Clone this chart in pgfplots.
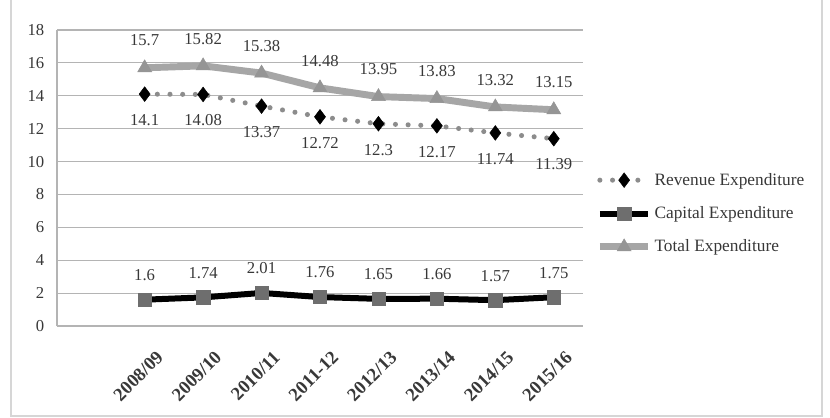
\documentclass[border=0pt]{standalone}
\usepackage{pgfplots}
\pgfplotsset{compat=1.18}
\usepackage{fontspec}
\setmainfont{Liberation Serif}
\definecolor{totgray}{HTML}{A6A6A6}
\definecolor{revdot}{HTML}{8C8C8C}
\definecolor{capsq}{HTML}{6E6E6E}
\definecolor{gridc}{HTML}{B4B4B4}
\definecolor{txt}{HTML}{383838}
\definecolor{framec}{HTML}{D6D6D6}

\begin{document}
\begin{tikzpicture}
\path[use as bounding box, fill=white] (0,0) rectangle (622.5pt,312.75pt);
\draw[framec, line width=0.8pt] (8.25pt,313pt) -- (8.25pt,0.75pt) -- (616.5pt,0.75pt) -- (616.5pt,313pt);
\begin{axis}[
    at={(42.75pt,68.25pt)}, anchor=south west,
    scale only axis,
    width=394.5pt, height=222pt,
    xmin=-1.5, xmax=7.5,
    ymin=0, ymax=18,
    ytick={0,2,...,18},
    xtick={0,...,7},
    xticklabels={2008/09,2009/10,2010/11,2011-12,2012/13,2013/14,2014/15,2015/16},
    xticklabel style={xshift=8pt, yshift=-13pt, rotate=45, anchor=north east,
        font=\fontsize{14}{16}\selectfont\bfseries, text=txt},
    yticklabel style={font=\fontsize{12.5}{14}\selectfont, text=txt, xshift=-6pt},
    /pgf/number format/assume math mode=true,
    axis x line*=bottom, axis y line*=left,
    axis line style={gridc, line width=0.9pt, -},
    tick style={draw=none},
    ymajorgrids=true,
    grid style={gridc, line width=0.9pt},
    clip=false,
    legend style={draw=none, fill=none, at={(1.025,0.38)}, anchor=west,
        font=\fontsize{13}{15}\selectfont, text=txt,
        row sep=10.5pt, inner sep=0pt,
        /tikz/every odd column/.append style={column sep=0pt}},
    legend cell align=left,
    legend image code/.code={\draw[mark repeat=2,mark phase=2,#1] plot coordinates {(0cm,0cm) (0.64cm,0cm) (1.28cm,0cm)};},
    every node near coord/.append style={font=\fontsize{12.5}{14}\selectfont, text=txt, inner sep=0pt},
]
\addplot[revdot, line width=3.8pt, line cap=round, dash pattern=on 0pt off 9.5pt,
    mark=diamond*, mark size=5.5pt, mark options={solid, fill=black, draw=black, line width=0.4pt},
    nodes near coords, nodes near coords style={anchor=north, yshift=-15pt}]
    coordinates {(0,14.1)(1,14.08)(2,13.37)(3,12.72)(4,12.3)(5,12.17)(6,11.74)(7,11.39)};
\addlegendentry{Revenue Expenditure}
\addplot[black, line width=4.5pt,
    mark=square*, mark size=5pt, mark options={fill=capsq, draw=capsq, line width=0.4pt},
    nodes near coords, nodes near coords style={anchor=south, yshift=14pt}]
    coordinates {(0,1.6)(1,1.74)(2,2.01)(3,1.76)(4,1.65)(5,1.66)(6,1.57)(7,1.75)};
\addlegendentry{Capital Expenditure}
\addplot[totgray, line width=5.2pt,
    mark=triangle*, mark size=6pt, mark options={fill=totgray!90!black, draw=totgray!90!black, line width=0.4pt},
    nodes near coords, nodes near coords style={anchor=south, yshift=16pt}]
    coordinates {(0,15.7)(1,15.82)(2,15.38)(3,14.48)(4,13.95)(5,13.83)(6,13.32)(7,13.15)};
\addlegendentry{Total Expenditure}
\end{axis}
\end{tikzpicture}
\end{document}
